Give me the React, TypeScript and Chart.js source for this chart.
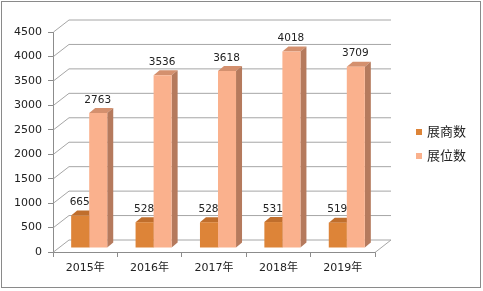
import React, { useEffect, useRef } from "react";
import { Chart, registerables } from "chart.js";

Chart.register(...registerables);

const categories = ["2015年", "2016年", "2017年", "2018年", "2019年"];
const seriesNames = ["展商数", "展位数"];
const exhibitors = [665, 528, 528, 531, 519];
const booths = [2763, 3536, 3618, 4018, 3709];
const yMin = 0;
const yMax = 4500;
const yStep = 500;

const frontColors = ["#DD8438", "#FAB18D"];
const topColors = ["#C06E2C", "#D4906E"];
const sideColors = ["#A15A24", "#B57A5D"];

const WALL = { x: 16, y: -12 };
const SHIFT = { x: 4, y: -4 };
const DEPTH = { x: 6, y: -5 };
const GRID = "#A6A6A6";
const AXIS = "#8C8C8C";
const TEXT = "#222222";

const threeD = {
  id: "threeD",
  beforeDraw(chart: any) {
    const ctx = chart.ctx;
    ctx.save();
    ctx.fillStyle = "#ffffff";
    ctx.fillRect(0, 0, chart.width, chart.height);
    ctx.strokeStyle = "#8A8A8A";
    ctx.lineWidth = 1;
    ctx.strokeRect(1.5, 1.5, 479, 286);
    ctx.restore();
  },
  beforeDatasetsDraw(chart: any) {
    const ctx = chart.ctx;
    const { left, right, bottom } = chart.chartArea;
    const ys = chart.scales.y;
    ctx.save();
    ctx.strokeStyle = GRID;
    ctx.lineWidth = 1;
    for (let v = yMin; v <= yMax; v += yStep) {
      const y = ys.getPixelForValue(v);
      ctx.beginPath();
      ctx.moveTo(left + 0.5, y);
      ctx.lineTo(left + WALL.x, y + WALL.y);
      ctx.lineTo(right + WALL.x, y + WALL.y);
      ctx.stroke();
    }
    ctx.beginPath();
    ctx.moveTo(right, bottom + 0.5);
    ctx.lineTo(right + WALL.x, bottom + WALL.y);
    ctx.stroke();
    ctx.restore();

    ctx.save();
    ctx.translate(SHIFT.x, SHIFT.y);
    chart.data.datasets.forEach((ds: any, di: number) => {
      const meta = chart.getDatasetMeta(di);
      meta.data.forEach((el: any) => {
        const { x, y, base, width } = el.getProps(["x", "y", "base", "width"], true);
        const l = x - width / 2;
        const r = x + width / 2;
        ctx.fillStyle = topColors[di];
        ctx.beginPath();
        ctx.moveTo(l, y);
        ctx.lineTo(r, y);
        ctx.lineTo(r + DEPTH.x, y + DEPTH.y);
        ctx.lineTo(l + DEPTH.x, y + DEPTH.y);
        ctx.closePath();
        ctx.fill();
        ctx.fillStyle = sideColors[di];
        ctx.beginPath();
        ctx.moveTo(r, y);
        ctx.lineTo(r + DEPTH.x, y + DEPTH.y);
        ctx.lineTo(r + DEPTH.x, base + DEPTH.y);
        ctx.lineTo(r, base);
        ctx.closePath();
        ctx.fill();
      });
    });
  },
  afterDatasetsDraw(chart: any) {
    const ctx = chart.ctx;
    ctx.fillStyle = TEXT;
    ctx.font = '10.5px "DejaVu Sans"';
    ctx.textAlign = "center";
    ctx.textBaseline = "middle";
    chart.data.datasets.forEach((ds: any, di: number) => {
      const meta = chart.getDatasetMeta(di);
      meta.data.forEach((el: any, i: number) => {
        const { x, y } = el.getProps(["x", "y"], true);
        ctx.fillText(String(ds.data[i]), x - 0.5, y - 13);
      });
    });
    ctx.restore();
  },
  afterDraw(chart: any) {
    const ctx = chart.ctx;
    ctx.save();
    ctx.font = '13px "Noto Sans CJK SC"';
    ctx.textAlign = "left";
    ctx.textBaseline = "middle";
    chart.data.datasets.forEach((ds: any, di: number) => {
      const cy = 131 + di * 24;
      ctx.fillStyle = frontColors[di];
      ctx.fillRect(416, cy - 2, 6, 6);
      ctx.fillStyle = TEXT;
      ctx.fillText(ds.label, 427, cy);
    });
    ctx.restore();
  },
};

export default function App() {
  const ref = useRef<HTMLCanvasElement>(null);
  useEffect(() => {
    const chart = new Chart(ref.current as HTMLCanvasElement, {
      type: "bar",
      data: {
        labels: categories,
        datasets: [
          { label: seriesNames[0], data: exhibitors, backgroundColor: frontColors[0], borderWidth: 0, clip: false } as any,
          { label: seriesNames[1], data: booths, backgroundColor: frontColors[1], borderWidth: 0, clip: false } as any,
        ],
      },
      plugins: [threeD],
      options: {
        animation: false,
        responsive: false,
        devicePixelRatio: 1,
        events: [],
        layout: { padding: { top: 32, right: 108, bottom: 0, left: 0 } },
        datasets: { bar: { barPercentage: 1, categoryPercentage: 0.56 } },
        plugins: { legend: { display: false }, tooltip: { enabled: false } },
        scales: {
          x: {
            grid: { drawOnChartArea: false, drawTicks: true, tickLength: 5, color: AXIS, offset: true },
            border: { color: AXIS },
            ticks: { color: TEXT, font: { family: '"DejaVu Sans", "Noto Sans CJK SC"', size: 11 }, padding: 5, maxRotation: 0 },
            afterFit: (s: any) => { s.height = 39; },
          },
          y: {
            min: yMin,
            max: yMax,
            grid: { drawOnChartArea: false, drawTicks: true, tickLength: 5, color: AXIS },
            border: { color: AXIS },
            ticks: { stepSize: yStep, color: TEXT, font: { family: '"DejaVu Sans"', size: 11 }, padding: 6, callback: (v: any) => String(v) },
            afterFit: (s: any) => { s.width = 53; },
          },
        },
      } as any,
    });
    return () => chart.destroy();
  }, []);
  return (
    <div style={{ position: "fixed", left: 0, top: 0, width: 483, height: 291, background: "#fff" }}>
      <canvas ref={ref} width={483} height={291} />
    </div>
  );
}
